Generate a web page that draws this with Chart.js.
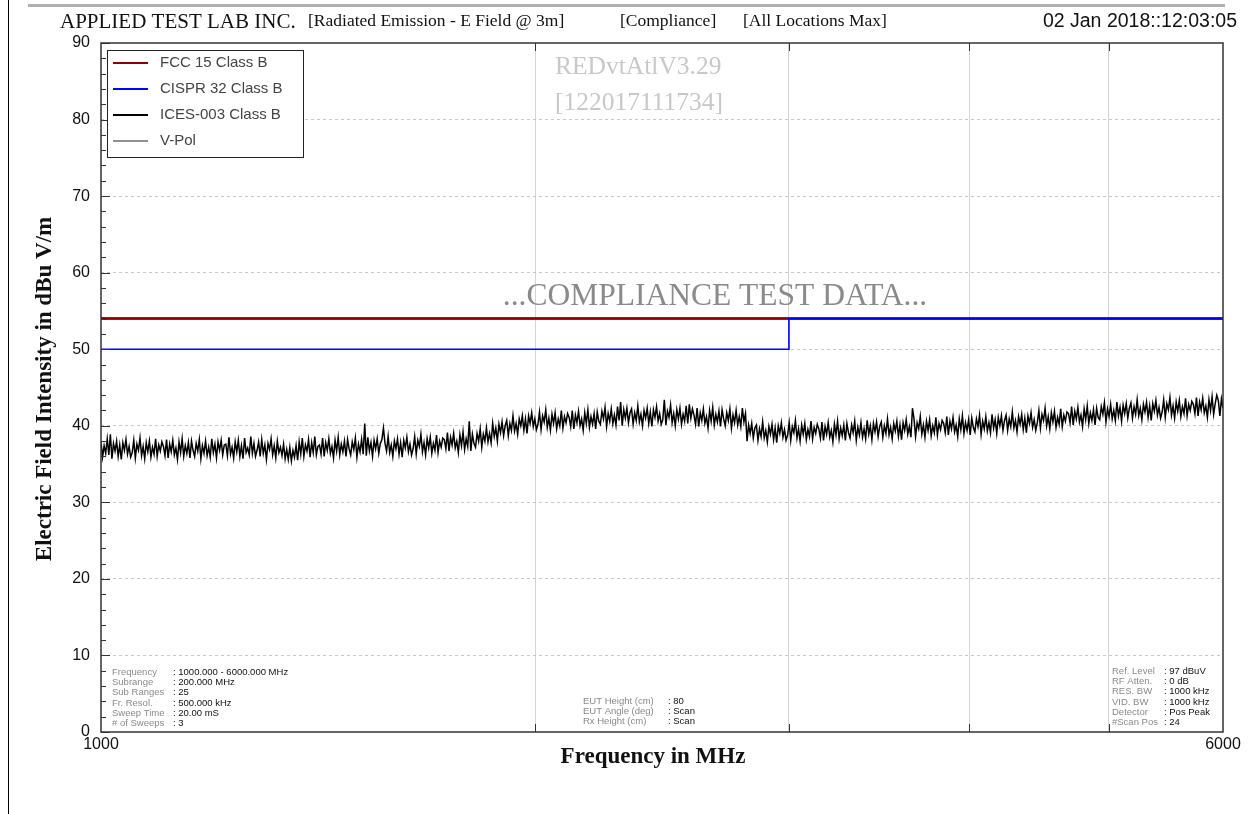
<!DOCTYPE html>
<html>
<head>
<meta charset="utf-8">
<script src="https://cdn.jsdelivr.net/npm/chart.js@4.4.1/dist/chart.umd.min.js"></script>
<style>
  html, body { margin: 0; background: #fff; }
  canvas { display: block; }
</style>
</head>
<body>
<canvas id="grafico" width="1251" height="814"></canvas>
<script>
// limites (dBuV/m)
const fccFreq = [1000, 6000];
const fccNivel = [54, 54];
const cisprFreq = [1000, 3000, 3000, 6000];
const cisprNivel = [50, 50, 54, 54];
const icesFreq = [1000, 6000];
const icesNivel = [54, 54];

// barrido V-Pol, 1000 - 6000 MHz
const freqInicio = 1000;
const freqFin = 6000;
const vpol = [
  37.9, 35.9, 37.4, 36.4, 38.3, 36.2, 38.9, 35.7, 37.7, 36.7, 38.0, 36.0, 37.5, 35.6, 37.8, 36.8, 38.2, 36.3, 37.3, 35.9,
  36.5, 38.1, 35.8, 37.6, 36.8, 38.4, 36.1, 37.3, 35.7, 37.8, 36.6, 38.0, 35.9, 37.2, 36.3, 38.3, 36.0, 37.5, 36.7, 37.9,
  37.3, 36.1, 38.2, 35.8, 37.6, 36.6, 38.1, 36.2, 37.1, 35.6, 37.9, 36.5, 38.3, 36.0, 37.4, 36.4, 37.8, 35.8, 38.0, 36.8,
  36.0, 37.7, 36.7, 38.2, 35.7, 37.4, 36.4, 38.0, 36.1, 37.2, 35.9, 38.3, 36.5, 37.6, 35.8, 37.9, 36.8, 38.1, 36.2, 37.5,
  37.6, 36.1, 38.5, 36.3, 37.2, 35.8, 37.9, 36.6, 38.1, 36.0, 37.4, 35.7, 38.4, 36.5, 37.1, 36.2, 38.6, 36.4, 37.7, 36.0,
  36.8, 37.9, 36.0, 38.2, 36.4, 37.5, 35.6, 37.7, 36.9, 38.3, 36.2, 37.4, 35.8, 38.0, 36.5, 37.2, 36.1, 37.6, 35.7, 36.9,
  35.6, 37.2, 35.4, 36.8, 35.9, 37.4, 35.5, 37.9, 36.3, 38.4, 36.0, 37.5, 36.7, 38.2, 35.9, 37.8, 36.5, 38.6, 36.2, 37.3,
  37.5, 36.3, 38.4, 36.0, 37.8, 36.8, 38.3, 36.4, 37.3, 35.8, 38.1, 36.7, 38.5, 36.2, 37.6, 36.6, 38.0, 36.0, 38.2, 37.0,
  36.2, 37.9, 36.9, 38.4, 35.9, 37.6, 36.6, 38.2, 36.3, 40.3, 36.1, 38.5, 36.7, 37.8, 36.0, 38.1, 37.0, 38.3, 36.4, 37.7,
  38.2, 39.7, 37.7, 36.7, 38.6, 36.5, 37.5, 36.0, 38.0, 37.0, 38.3, 36.3, 37.8, 35.9, 38.1, 37.1, 38.5, 36.6, 37.6, 36.2,
  37.0, 38.6, 36.3, 38.1, 37.3, 38.9, 36.6, 37.8, 36.2, 38.3, 37.1, 38.5, 36.4, 37.7, 36.8, 38.8, 36.5, 38.0, 37.2, 38.4,
  38.2, 37.0, 39.1, 36.7, 38.5, 37.5, 39.0, 37.1, 38.0, 36.5, 38.8, 37.4, 39.2, 36.9, 38.3, 37.3, 40.6, 36.7, 38.9, 37.7,
  37.2, 39.0, 38.0, 39.6, 37.2, 38.9, 38.0, 39.7, 37.9, 39.0, 37.8, 40.3, 38.6, 39.7, 38.0, 40.2, 39.1, 40.5, 38.7, 40.0,
  40.7, 38.7, 40.3, 39.4, 41.3, 39.3, 40.3, 38.9, 40.9, 40.0, 41.3, 39.4, 40.9, 39.0, 41.3, 40.3, 41.7, 39.9, 40.9, 39.5,
  40.2, 41.8, 39.5, 41.3, 40.5, 42.1, 39.8, 41.0, 39.4, 41.5, 40.3, 41.7, 39.6, 40.9, 40.0, 42.0, 39.7, 41.2, 40.4, 41.6,
  41.1, 39.9, 42.0, 39.6, 41.4, 40.4, 41.9, 40.0, 40.9, 39.4, 41.7, 40.3, 42.1, 39.8, 41.2, 40.2, 41.6, 39.6, 41.8, 40.6,
  40.2, 41.9, 40.9, 42.4, 39.9, 41.6, 40.6, 42.2, 40.3, 41.4, 40.1, 42.5, 40.7, 43.1, 40.0, 42.1, 41.0, 42.3, 40.4, 41.7,
  42.2, 40.2, 41.7, 40.7, 42.6, 40.5, 41.5, 40.0, 42.0, 41.0, 42.3, 40.3, 41.8, 39.9, 42.1, 41.1, 42.5, 40.6, 41.6, 40.2,
  40.8, 43.4, 40.1, 41.9, 41.1, 42.7, 40.4, 41.6, 40.0, 42.1, 40.9, 42.3, 40.2, 41.5, 40.6, 42.6, 40.3, 42.8, 41.0, 42.2,
  41.4, 40.2, 42.3, 39.9, 41.7, 40.7, 42.2, 40.3, 41.2, 39.7, 42.0, 40.6, 42.4, 40.1, 41.5, 40.5, 41.9, 39.9, 42.1, 40.9,
  40.0, 41.7, 40.7, 42.2, 39.7, 41.4, 40.4, 42.0, 40.1, 41.2, 39.9, 42.3, 40.5, 41.6, 38.0, 40.1, 39.0, 40.3, 38.4, 39.7,
  40.1, 38.1, 39.6, 38.6, 40.5, 38.4, 39.4, 37.9, 39.9, 38.9, 40.2, 38.2, 39.7, 37.8, 40.0, 39.0, 40.4, 38.5, 39.5, 38.1,
  38.8, 40.4, 38.1, 39.9, 39.1, 40.7, 38.4, 39.6, 38.0, 40.1, 38.9, 40.3, 38.2, 39.5, 38.6, 40.6, 38.3, 39.8, 39.0, 40.2,
  39.6, 38.4, 40.5, 38.1, 39.9, 38.9, 40.4, 38.5, 39.4, 37.9, 40.2, 38.8, 40.6, 38.3, 39.7, 38.7, 40.1, 38.1, 40.3, 39.1,
  38.4, 40.1, 39.1, 40.6, 38.1, 39.8, 38.8, 40.4, 38.5, 39.6, 38.3, 40.7, 38.9, 40.0, 38.2, 40.3, 39.2, 40.5, 38.6, 39.9,
  40.5, 38.5, 40.0, 39.0, 40.9, 38.8, 39.8, 38.3, 40.3, 39.3, 40.6, 38.6, 40.1, 38.2, 40.4, 39.4, 40.8, 38.9, 39.9, 38.5,
  42.3, 40.9, 38.6, 40.4, 39.6, 41.2, 38.9, 40.1, 38.5, 40.6, 39.4, 40.8, 38.7, 40.0, 39.1, 41.1, 38.8, 40.3, 39.5, 40.7,
  40.3, 39.1, 41.2, 38.8, 40.6, 39.6, 41.1, 39.2, 40.1, 38.6, 40.9, 39.5, 41.3, 39.0, 40.4, 39.4, 40.8, 38.8, 41.0, 39.8,
  39.2, 40.9, 39.9, 41.4, 38.9, 40.6, 39.6, 41.2, 39.3, 40.4, 39.1, 41.5, 39.7, 40.8, 39.0, 41.1, 40.0, 41.3, 39.4, 40.7,
  41.4, 39.4, 40.9, 39.9, 41.8, 39.7, 40.7, 39.2, 41.2, 40.2, 41.5, 39.5, 41.0, 39.1, 41.3, 40.3, 41.7, 39.8, 40.8, 39.4,
  40.4, 42.0, 39.7, 41.5, 40.7, 42.3, 40.0, 41.2, 39.6, 41.7, 40.5, 41.9, 39.8, 41.1, 40.2, 42.2, 39.9, 41.4, 40.6, 41.8,
  41.6, 40.4, 42.5, 40.1, 41.9, 40.9, 42.4, 40.5, 41.4, 39.9, 42.2, 40.8, 42.6, 40.3, 41.7, 40.7, 42.1, 40.1, 42.3, 41.1,
  40.8, 42.5, 41.5, 43.0, 40.5, 42.2, 41.2, 42.8, 40.9, 42.0, 40.7, 43.1, 41.3, 42.4, 40.6, 42.7, 41.6, 42.9, 41.0, 42.3,
  43.0, 41.0, 42.5, 41.5, 43.4, 41.3, 42.3, 40.8, 42.8, 41.8, 43.1, 41.1, 42.6, 40.7, 42.9, 41.9, 43.3, 41.4, 42.4, 41.0,
  41.8, 43.4, 41.1, 42.9, 42.1, 43.7, 41.4, 42.6, 41.0, 43.1, 41.9, 43.3, 41.2, 42.5, 41.6, 43.6, 41.3, 42.8, 42.0, 43.2,
  42.8, 41.6, 43.7, 41.3, 43.1, 42.1, 43.6, 41.7, 42.6, 41.1, 43.4, 42.0, 43.8, 41.5, 42.9, 44.0, 43.3, 41.3, 43.5, 42.3
];

// ejes
const yTicks = [0, 10, 20, 30, 40, 50, 60, 70, 80, 90];
const xTicks = [1000, 2000, 3000, 4000, 5000, 6000];
const xEtiquetas = [1000, 6000];

const leyenda = ["FCC 15 Class B", "CISPR 32 Class B", "ICES-003 Class B", "V-Pol"];

const infoIzq = [
  ["Frequency", ": 1000.000 - 6000.000 MHz"],
  ["Subrange", ": 200.000 MHz"],
  ["Sub Ranges", ": 25"],
  ["Fr. Resol.", ": 500.000 kHz"],
  ["Sweep Time", ": 20.00 mS"],
  ["# of Sweeps", ": 3"]
];
const infoCentro = [
  ["EUT Height (cm)", ": 80"],
  ["EUT Angle (deg)", ": Scan"],
  ["Rx Height (cm)", ": Scan"]
];
const infoDer = [
  ["Ref. Level", ": 97 dBuV"],
  ["RF Atten.", ": 0 dB"],
  ["RES. BW", ": 1000 kHz"],
  ["VID. BW", ": 1000 kHz"],
  ["Detector", ": Pos Peak"],
  ["#Scan Pos", ": 24"]
];

function puntos(xs, ys) {
  return xs.map((x, i) => ({ x: x, y: ys[i] }));
}

const vpolPuntos = vpol.map((v, i) => ({
  x: freqInicio * Math.pow(freqFin / freqInicio, i / (vpol.length - 1)),
  y: v
}));

const colores = ["#8b0000", "#0000ff", "#000000", "#222222"];
const anchos = [2.5, 1.6, 2, 1];

const serif = "'Liberation Serif', 'Times New Roman', serif";
const sans = "'Liberation Sans', Arial, sans-serif";

function bloqueInfo(ctx, filas, xLab, xVal, y0, paso) {
  ctx.font = "9.5px " + sans;
  ctx.textBaseline = "middle";
  ctx.textAlign = "left";
  filas.forEach((f, i) => {
    ctx.fillStyle = "#8a8a8a";
    ctx.fillText(f[0], xLab, y0 + i * paso);
    ctx.fillStyle = "#111";
    ctx.fillText(f[1], xVal, y0 + i * paso);
  });
}

const marco = {
  id: "marco",
  beforeDraw(chart) {
    const ctx = chart.ctx;
    ctx.save();
    ctx.fillStyle = "#fff";
    ctx.fillRect(0, 0, chart.width, chart.height);
    // barra gris superior y linea izquierda
    ctx.fillStyle = "#b0b0b0";
    ctx.fillRect(28, 4, 1197, 3);
    ctx.fillStyle = "#000";
    ctx.fillRect(8, 0, 1, chart.height);
    // encabezado
    ctx.fillStyle = "#111";
    ctx.textBaseline = "middle";
    ctx.font = "21px " + serif;
    ctx.fillText("APPLIED TEST LAB INC.", 60, 22);
    ctx.font = "17.5px " + serif;
    ctx.fillText("[Radiated Emission - E Field @ 3m]", 308, 21);
    ctx.fillText("[Compliance]", 620, 21);
    ctx.fillText("[All Locations Max]", 743, 21);
    ctx.font = "19.5px " + sans;
    ctx.textAlign = "right";
    ctx.fillText("02 Jan 2018::12:03:05", 1237, 22);
    ctx.restore();
  },
  beforeDatasetsDraw(chart) {
    const ctx = chart.ctx;
    ctx.save();
    ctx.textBaseline = "middle";
    ctx.textAlign = "left";
    ctx.fillStyle = "#c8c8c8";
    ctx.font = "25.5px " + serif;
    ctx.fillText("REDvtAtlV3.29", 555, 67);
    ctx.fillText("[122017111734]", 555, 103);
    ctx.fillStyle = "#8a8a8a";
    ctx.textAlign = "center";
    ctx.font = "31.5px " + serif;
    ctx.fillText("...COMPLIANCE TEST DATA...", 715, 297);
    ctx.restore();
  },
  afterDatasetsDraw(chart) {
    const ctx = chart.ctx;
    const a = chart.chartArea;
    const xs = chart.scales.x;
    const ys = chart.scales.y;
    ctx.save();
    // marcas menores en el eje y
    ctx.strokeStyle = "#333";
    ctx.lineWidth = 1;
    ctx.beginPath();
    for (let v = 0; v <= 90; v += 2) {
      const y = Math.round(ys.getPixelForValue(v)) + 0.5;
      const largo = v % 10 === 0 ? 9 : 5;
      ctx.moveTo(a.left, y);
      ctx.lineTo(a.left + largo, y);
    }
    // marcas del eje x arriba y abajo
    xTicks.slice(1, -1).forEach(f => {
      const x = Math.round(xs.getPixelForValue(f)) + 0.5;
      ctx.moveTo(x, a.bottom);
      ctx.lineTo(x, a.bottom - 8);
      ctx.moveTo(x, a.top);
      ctx.lineTo(x, a.top + 8);
    });
    ctx.stroke();
    // marco
    ctx.strokeStyle = "#333";
    ctx.lineWidth = 1.5;
    ctx.strokeRect(a.left, a.top, a.right - a.left, a.bottom - a.top);

    // leyenda
    ctx.fillStyle = "#fff";
    ctx.fillRect(107, 50, 196, 107);
    ctx.lineWidth = 1;
    ctx.strokeStyle = "#222";
    ctx.strokeRect(107.5, 50.5, 196, 107);
    ctx.font = "15px " + sans;
    ctx.textBaseline = "middle";
    ctx.textAlign = "left";
    leyenda.forEach((nombre, i) => {
      const y = 63 + i * 26;
      ctx.strokeStyle = colores[i];
      ctx.lineWidth = i === 3 ? 1 : 2;
      ctx.beginPath();
      ctx.moveTo(113, y);
      ctx.lineTo(148, y);
      ctx.stroke();
      ctx.fillStyle = "#444";
      ctx.fillText(nombre, 160, y);
    });

    // bloques de informacion
    bloqueInfo(ctx, infoIzq, 112, 173, 672, 10.3);
    bloqueInfo(ctx, infoCentro, 583, 668, 701, 10.1);
    bloqueInfo(ctx, infoDer, 1112, 1164, 671, 10.3);

    // titulos de ejes
    ctx.fillStyle = "#111";
    ctx.font = "bold 23px " + serif;
    ctx.textAlign = "center";
    ctx.fillText("Frequency in MHz", 653, 757);
    ctx.translate(45, 389);
    ctx.rotate(-Math.PI / 2);
    ctx.fillText("Electric Field Intensity in dBu V/m", 0, 0);
    ctx.restore();
  }
};

new Chart(document.getElementById("grafico").getContext("2d"), {
  type: "line",
  data: {
    datasets: [
      { label: leyenda[0], data: puntos(fccFreq, fccNivel), borderColor: colores[0], borderWidth: anchos[0], order: 1 },
      { label: leyenda[1], data: puntos(cisprFreq, cisprNivel), borderColor: colores[1], borderWidth: anchos[1], order: 0 },
      { label: leyenda[2], data: puntos(icesFreq, icesNivel), borderColor: colores[2], borderWidth: anchos[2], order: 2 },
      { label: leyenda[3], data: vpolPuntos, borderColor: "#000", borderWidth: 1.5, order: 3 }
    ]
  },
  options: {
    responsive: false,
    animation: false,
    elements: { point: { radius: 0 }, line: { tension: 0, fill: false } },
    layout: { padding: { left: 0, right: 28, top: 43, bottom: 0 } },
    plugins: { legend: { display: false }, tooltip: { enabled: false } },
    scales: {
      x: {
        type: "logarithmic",
        min: freqInicio,
        max: freqFin,
        afterBuildTicks: s => { s.ticks = xTicks.map(v => ({ value: v })); },
        afterFit: s => { s.height = 82; s.paddingLeft = 0; s.paddingRight = 0; },
        ticks: {
          autoSkip: false,
          maxRotation: 0,
          padding: 3,
          color: "#111",
          font: { family: sans, size: 16 },
          callback: v => xEtiquetas.includes(v) ? String(v) : ""
        },
        grid: {
          drawTicks: false,
          color: c => (c.tick && (c.tick.value === freqInicio || c.tick.value === freqFin)) ? "rgba(0,0,0,0)" : "#d4d4d4"
        },
        border: { display: false }
      },
      y: {
        type: "linear",
        min: 0,
        max: 90,
        afterBuildTicks: s => { s.ticks = yTicks.map(v => ({ value: v })); },
        afterFit: s => { s.width = 101; s.paddingTop = 0; s.paddingBottom = 0; },
        ticks: {
          padding: 11,
          color: "#111",
          font: { family: sans, size: 16 }
        },
        grid: {
          drawTicks: false,
          color: c => (c.tick && (c.tick.value === 0 || c.tick.value === 90)) ? "rgba(0,0,0,0)" : "#c8c8c8"
        },
        border: { display: false, dash: [3, 3] }
      }
    }
  },
  plugins: [marco]
});
</script>
</body>
</html>
